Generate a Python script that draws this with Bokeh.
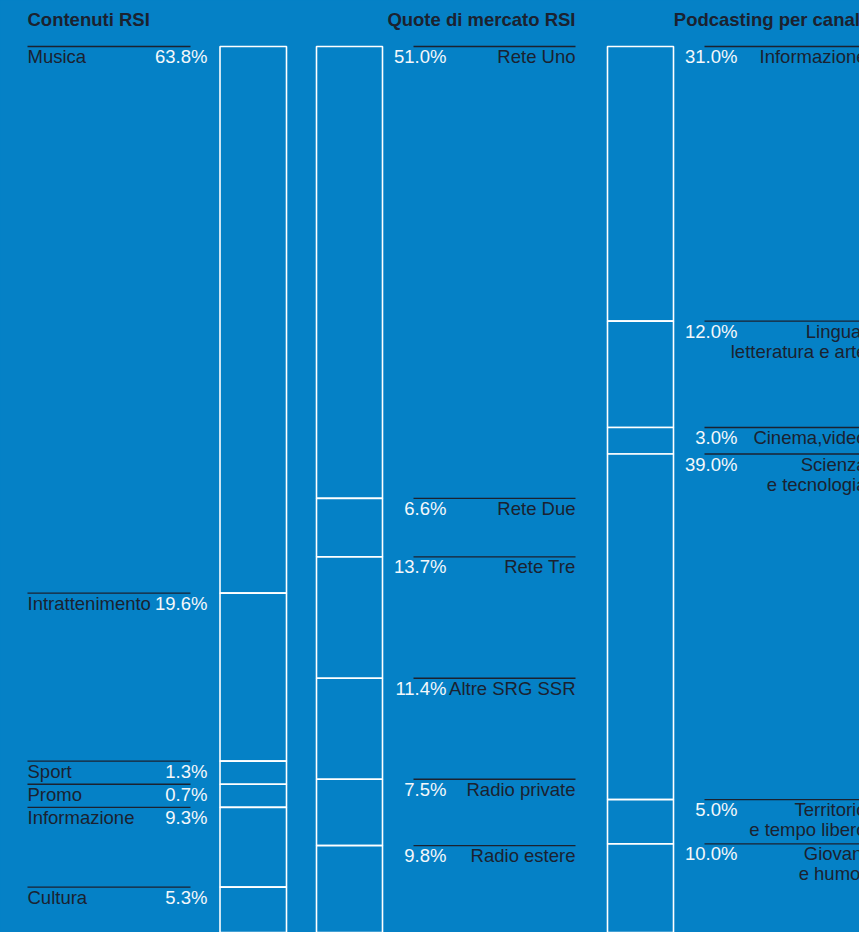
from bokeh.plotting import figure
from bokeh.models import Range1d
from bokeh.embed import file_html
from bokeh.resources import INLINE
from bokeh.core.properties import value
import numpy as np

# ---------------- data ----------------
titles = ["Contenuti RSI", "Quote di mercato RSI", "Podcasting per canale"]

cont_labels = ["Musica", "Intrattenimento", "Sport", "Promo", "Informazione", "Cultura"]
cont_values = [63.8, 19.6, 1.3, 0.7, 9.3, 5.3]

quote_labels = ["Rete Uno", "Rete Due", "Rete Tre", "Altre SRG SSR", "Radio private", "Radio estere"]
quote_values = [51.0, 6.6, 13.7, 11.4, 7.5, 9.8]

pod_labels_1 = ["Informazione", "Lingua,", "Cinema,video", "Scienza", "Territorio", "Giovani"]
pod_labels_2 = ["", "letteratura e arte", "", "e tecnologia", "e tempo libero", "e humor"]
pod_values = [31.0, 12.0, 3.0, 39.0, 5.0, 10.0]

# smallest share drawn so that a label fits next to its block
MIN_SHARE = 2.7

# ---------------- style ----------------
BG = "#0581C6"
DARK = "#1b2230"
WHITE = "#f4f8fb"
FONT = value("Liberation Sans")
FS = "18.5px"
OFF1, OFF2, OFFT = 10, 30, -27


def stack(vals):
    adj = np.array([max(v, MIN_SHARE) for v in vals], dtype=float)
    share = adj / adj.sum() * 100.0
    ends = np.cumsum(share)
    starts = ends - share
    return starts, ends


W, H = 859, 932
p = figure(width=W, height=H, output_backend="svg", toolbar_location=None,
           x_range=Range1d(0, W), y_range=Range1d(100.0, -5.19),
           min_border=0, outline_line_color=None,
           background_fill_color=BG, border_fill_color=BG)
p.axis.visible = False
p.grid.visible = False

# column layout: bar edges, rule span, percentage x, name x
cols = [
    dict(bl=219.5, br=286, lx0=27, lx1=190, px=207, nx=27, nalign="left"),
    dict(bl=316, br=382, lx0=413, lx1=575, px=446, nx=575, nalign="right"),
    dict(bl=607, br=673, lx0=704, lx1=866, px=737, nx=866, nalign="right"),
]
datasets = [
    (cont_values, cont_labels, None),
    (quote_values, quote_labels, None),
    (pod_values, pod_labels_1, pod_labels_2),
]

for c, (vals, lab1, lab2) in zip(cols, datasets):
    starts, ends = stack(vals)
    n = len(vals)
    # blocks
    p.quad(left=[c["bl"]] * n, right=[c["br"]] * n, top=starts, bottom=ends,
           fill_color=BG, line_color="white", line_width=1.6)
    # rules above labels
    p.segment(x0=[c["lx0"]] * n, x1=[c["lx1"]] * n, y0=starts, y1=starts,
              line_color=DARK, line_width=1.4)
    # names
    p.text(x=[c["nx"]] * n, y=starts, text=lab1, text_font=FONT,
           text_font_size=FS, text_color=DARK, text_align=c["nalign"],
           text_baseline="alphabetic", y_offset=OFF1)
    if lab2 is not None:
        p.text(x=[c["nx"]] * n, y=starts, text=lab2, text_font=FONT,
               text_font_size=FS, text_color=DARK, text_align=c["nalign"],
               text_baseline="alphabetic", y_offset=OFF2)
    # percentages
    p.text(x=[c["px"]] * n, y=starts, text=[f"{v:.1f}%" for v in vals],
           text_font=FONT, text_font_size=FS, text_color=WHITE,
           text_align="right", text_baseline="alphabetic", y_offset=OFF1)

# column titles
p.text(x=[27, 575, 673.3], y=[0, 0, 0], text=titles, text_font=FONT,
       text_font_size=FS, text_font_style="bold", text_color=DARK,
       text_align=["left", "right", "left"], text_baseline="alphabetic",
       y_offset=OFFT)

html = file_html(p, INLINE)
style = "<style>html,body{margin:0;padding:0;background-color:%s;overflow:hidden;}</style>" % BG
html = html.replace("</head>", style + "</head>", 1)
open("out.html", "w").write(html)
